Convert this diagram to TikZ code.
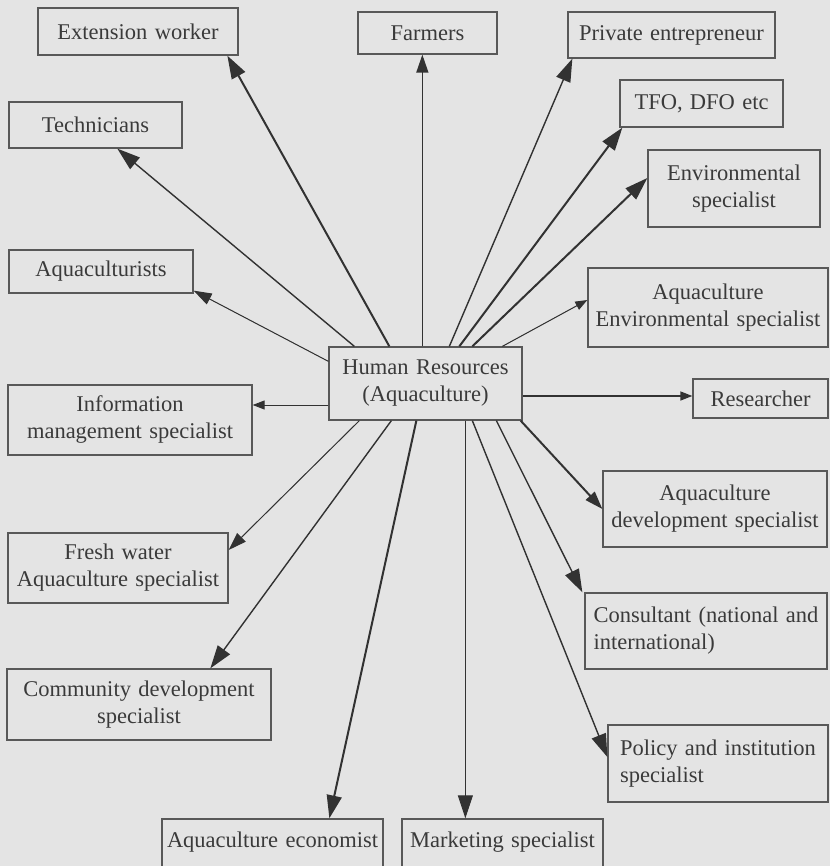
\documentclass[tikz,border=0pt]{standalone}
\usepackage{fontspec}
\setmainfont{Liberation Serif}[WordSpace=1.3]
\usetikzlibrary{arrows.meta}
\definecolor{bg}{RGB}{228,228,228}
\definecolor{ink}{RGB}{58,58,58}
\definecolor{edge}{RGB}{88,88,88}
\definecolor{wire}{RGB}{50,50,50}
\begin{document}
\begin{tikzpicture}[x=1pt,y=-1pt,
  box/.style={draw=edge,line width=1.3pt,inner sep=0pt,align=center,text=ink,
    font=\fontsize{22.5}{27}\selectfont},
  lbox/.style={box,align=left},
  cutbox/.style={box,text height=17pt,text depth=22pt},
  bighead/.style={-{Triangle[length=23pt,width=15pt]}},
  midhead/.style={-{Triangle[length=18pt,width=12pt]}},
  smallhead/.style={-{Triangle[length=12pt,width=9pt]}},
  heavy/.style={draw=wire,fill=wire,line width=2pt},
  medium/.style={draw=wire,fill=wire,line width=1.4pt},
  light/.style={draw=wire,fill=wire,line width=1pt}]
\useasboundingbox (0,0) rectangle (830,866);
\clip (0,0) rectangle (830,866);
\fill[bg] (0,0) rectangle (830,866);

% nodes
\node[box,minimum width=193pt,minimum height=73pt] (hr) at (425.5,383.5) {Human Resources\\(Aquaculture)};
\node[box,minimum width=200pt,minimum height=47pt] (ext) at (138,31.5) {Extension worker};
\node[box,minimum width=139pt,minimum height=42pt] (farm) at (427.5,33) {Farmers};
\node[box,minimum width=207pt,minimum height=46pt] (priv) at (671.5,35) {Private entrepreneur};
\node[box,minimum width=163pt,minimum height=47pt] (tfo) at (701.5,103.5) {TFO, DFO etc};
\node[box,minimum width=172pt,minimum height=77pt] (env) at (734,188.5) {Environmental\\specialist};
\node[box,minimum width=173pt,minimum height=46pt] (tech) at (95.5,125) {Technicians};
\node[box,minimum width=184pt,minimum height=43pt] (aquacult) at (101,271.5) {Aquaculturists};
\node[box,minimum width=240pt,minimum height=79pt] (aqenv) at (708,307.5) {Aquaculture\\Environmental specialist};
\node[box,minimum width=135pt,minimum height=39pt] (res) at (760.5,398.5) {Researcher};
\node[box,minimum width=244pt,minimum height=70pt] (info) at (130,420) {Information\\management specialist};
\node[box,minimum width=224pt,minimum height=76pt] (aqdev) at (715,509) {Aquaculture\\development specialist};
\node[box,minimum width=220pt,minimum height=70pt] (fresh) at (118,568) {Fresh water\\Aquaculture specialist};
\node[lbox,minimum width=242pt,minimum height=76pt] (cons) at (706,631) {Consultant (national and\\international)};
\node[box,minimum width=264pt,minimum height=71pt] (comm) at (139,704.5) {Community development\\specialist};
\node[lbox,minimum width=220pt,minimum height=77pt] (pol) at (718,763.5) {Policy and institution\\specialist};
\node[cutbox,minimum width=221pt,minimum height=61pt] (econ) at (272.5,849.5) {Aquaculture economist};
\node[cutbox,minimum width=201pt,minimum height=61pt] (mkt) at (502.5,849.5) {Marketing specialist};

% connectors
\draw[heavy,bighead]  ([xshift=61pt]hr.north west) -- ([xshift=190pt]ext.south west);
\draw[medium,bighead] ([xshift=26pt]hr.north west) -- ([xshift=109pt]tech.south west);
\draw[light,midhead]  ([yshift=-15pt]hr.north west) -- ([yshift=3pt]aquacult.south east);
\draw[medium,midhead] ([xshift=94pt]hr.north west) -- ([xshift=65pt]farm.south west);
\draw[medium,bighead] ([xshift=121pt]hr.north west) -- ([xshift=5pt]priv.south west);
\draw[heavy,bighead]  ([xshift=131pt]hr.north west) -- ([xshift=3pt]tfo.south west);
\draw[heavy,bighead]  ([xshift=144pt]hr.north west) -- ([yshift=10.5pt]env.west);
\draw[light,smallhead]  ([xshift=174pt]hr.north west) -- ([yshift=7.5pt]aqenv.west);
\draw[medium,smallhead] ([yshift=-12.5pt]hr.east) -- ([yshift=2.5pt]res.west);
\draw[light,smallhead]  ([yshift=-21.5pt]hr.west) -- ([yshift=15pt]info.east);
\draw[heavy,midhead]  ([xshift=-2pt]hr.south east) -- (aqdev.west);
\draw[medium,bighead] ([xshift=168pt]hr.south west) -- ([xshift=-2pt]cons.north west);
\draw[medium,bighead] ([xshift=144pt]hr.south west) -- ([yshift=6.5pt]pol.west);
\draw[light,bighead]  ([xshift=137pt]hr.south west) -- ([xshift=64pt]mkt.north west);
\draw[heavy,bighead]  ([xshift=88pt]hr.south west) -- ([xshift=168pt]econ.north west);
\draw[medium,bighead] ([xshift=63pt]hr.south west) -- ([xshift=204pt]comm.north west);
\draw[light,midhead]  ([xshift=31pt]hr.south west) -- ([yshift=18pt]fresh.east);
\end{tikzpicture}
\end{document}
